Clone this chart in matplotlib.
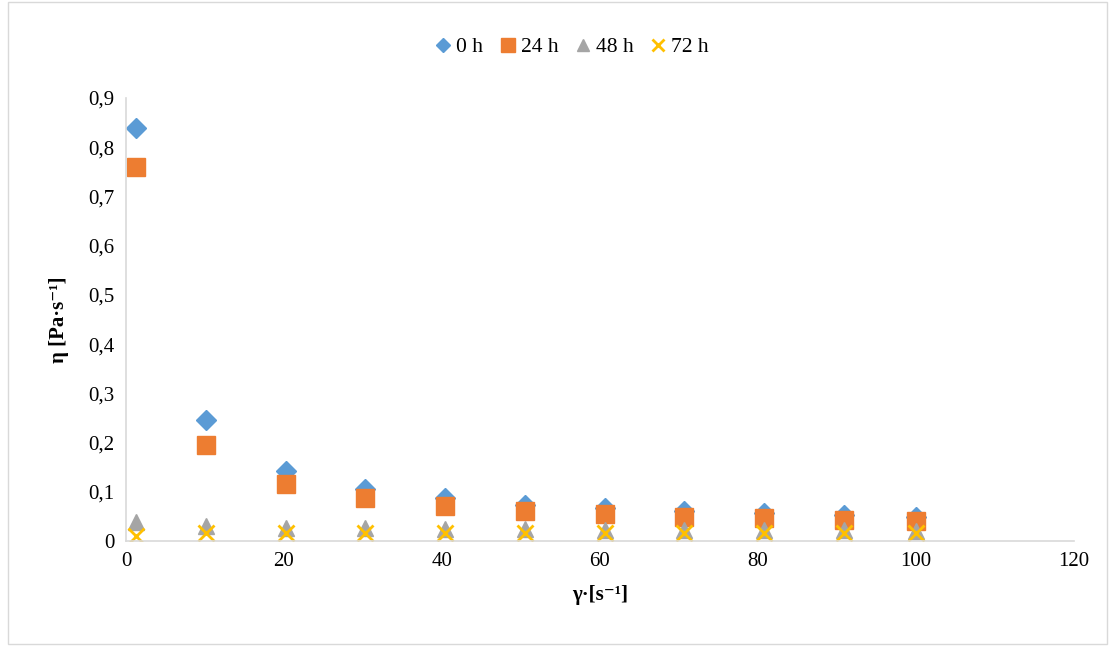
import matplotlib.pyplot as plt
from matplotlib.ticker import FuncFormatter
from matplotlib.patches import Rectangle

plt.rcParams['font.family'] = ['Liberation Serif', 'DejaVu Serif']

# shear rate [1/s]
gamma = [1.3, 10.1, 20.2, 30.3, 40.4, 50.5, 60.6, 70.7, 80.8, 90.9, 100]

# viscosity [Pa·s] per storage time
eta_0h = [0.840, 0.245, 0.143, 0.105, 0.087, 0.074, 0.067, 0.061, 0.056, 0.052, 0.049]
eta_24h = [0.760, 0.196, 0.116, 0.087, 0.071, 0.061, 0.054, 0.049, 0.046, 0.043, 0.040]
eta_48h = [0.039, 0.030, 0.027, 0.026, 0.025, 0.024, 0.023, 0.023, 0.022, 0.022, 0.021]
eta_72h = [0.010, 0.016, 0.016, 0.016, 0.016, 0.016, 0.016, 0.016, 0.016, 0.016, 0.016]

fig = plt.figure(figsize=(11.1, 6.46), dpi=100)
ax = fig.add_axes([0.1135, 0.1625, 0.854, 0.6858])

ax.plot(gamma, eta_0h, 'D', color='#5B9BD5', ms=10, label='0 h')
ax.plot(gamma, eta_24h, 's', color='#ED7D31', ms=12.5, label='24 h')
ax.plot(gamma, eta_48h, '^', color='#A5A5A5', ms=11, label='48 h')
ax.plot(gamma, eta_72h, 'x', color='#FFC000', ms=12, mew=2, label='72 h')

ax.set_xlim(0, 120)
ax.set_ylim(0, 0.9)
ax.set_xticks(range(0, 121, 20))
ax.set_yticks([i / 10 for i in range(10)])
ax.yaxis.set_major_formatter(FuncFormatter(lambda v, p: '0' if v == 0 else f'{v:.1f}'.replace('.', ',')))

for s in ['top', 'right']:
    ax.spines[s].set_visible(False)
for s in ['left', 'bottom']:
    ax.spines[s].set_color('#D9D9D9')
    ax.spines[s].set_linewidth(1.2)
ax.tick_params(length=0, labelsize=15, pad=8)

ax.set_xlabel('γ·[s⁻¹]', fontsize=15, fontweight='bold', labelpad=10)
ax.set_ylabel('η [Pa·s⁻¹]', fontsize=15, fontweight='bold', labelpad=14)

fig.legend(loc='center', bbox_to_anchor=(0.513, 0.927), ncol=4, frameon=False,
           fontsize=15.5, handletextpad=0.0, columnspacing=0.55, handlelength=1.2,
           markerscale=0.75)

fig.patches.append(Rectangle((0.007, 0.003), 0.99, 0.994, transform=fig.transFigure,
                             fill=False, edgecolor='#D9D9D9', linewidth=1))

fig.savefig('out.png', dpi=100)
